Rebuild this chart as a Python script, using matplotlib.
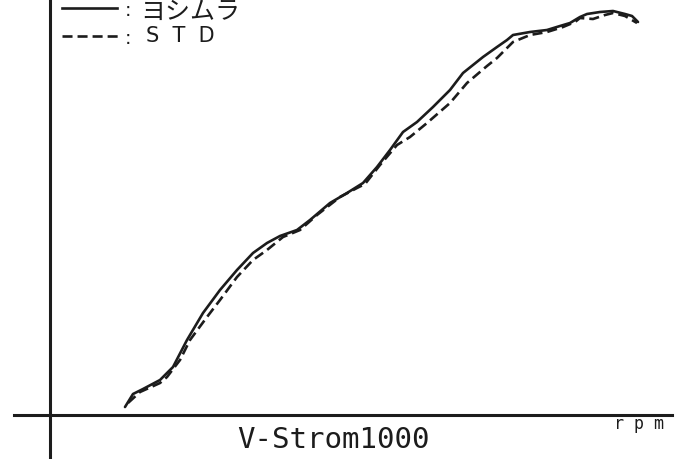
import matplotlib
matplotlib.use("Agg")
import matplotlib.pyplot as plt
import numpy as np

# Solid curve (ヨシムラ): rpm position vs output (arbitrary units)
yoshimura_x = [75, 83, 93, 110, 123, 137, 153, 170, 187, 203, 217, 230, 247, 260, 280,
               297, 313, 327, 340, 353, 367, 383, 400, 413, 433, 447, 457, 463, 480,
               497, 510, 520, 530, 537, 550, 563, 575, 582, 588]
yoshimura_y = [8, 21, 26, 35, 48, 75, 102, 125, 145, 162, 172, 179, 185, 195, 212,
               222, 232, 248, 265, 283, 293, 308, 325, 342, 358, 368, 375, 380, 383,
               385, 389, 392, 398, 401, 403, 404, 401, 399, 393]

# Dashed curve (STD)
std_x = [78, 90, 110, 117, 130, 140, 157, 170, 187, 203, 217, 233, 250, 267, 290,
         307, 315, 330, 347, 360, 377, 400, 417, 437, 447, 463, 480, 497, 513, 525,
         530, 543, 555, 563, 575, 587]
std_y = [12, 23, 32, 38, 55, 75, 98, 115, 138, 155, 165, 178, 185, 200, 218,
         227, 231, 250, 270, 278, 292, 312, 332, 349, 357, 373, 380, 383, 388, 393,
         397, 396, 400, 402, 399, 392]

title_text = "V-Strom1000"
unit_text = "r p m"
legend_labels = ["ヨシムラ", "S  T  D"]

W, H = 679, 459
fig = plt.figure(figsize=(W / 100, H / 100), dpi=100)
ax = fig.add_axes([0, 0, 1, 1])
ax.set_xlim(-50, W - 50)
ax.set_ylim(-44, H - 44)
ax.axis("off")

ink = "#1c1c1c"
dash = (0, (3.8, 1.9))

# axes lines
ax.axvline(0, color=ink, lw=2.2)
ax.axhline(0, xmin=14 / W, xmax=672 / W, color=ink, lw=2.2)

ax.plot(yoshimura_x, yoshimura_y, color=ink, lw=1.9, solid_capstyle="round",
        solid_joinstyle="round")
ax.plot(std_x, std_y, color=ink, lw=1.9, linestyle=dash, dash_joinstyle="round")

# legend drawn manually
tr = ax.transAxes
ax.plot([62 / W, 117 / W], [1 - 8 / H, 1 - 8 / H], color=ink, lw=1.9, transform=tr)
ax.plot([62 / W, 118 / W], [1 - 36 / H, 1 - 36 / H], color=ink, lw=1.9,
        linestyle=dash, transform=tr)
for yy in (11, 38):
    ax.text(128 / W, 1 - yy / H, ":", transform=tr, ha="center", va="center",
            fontsize=14, color=ink, family="DejaVu Sans")
ax.text(140 / W, 1 - 12 / H, legend_labels[0], transform=tr, ha="left", va="center",
        fontsize=18, color=ink, family=["Noto Sans CJK JP", "DejaVu Sans"])
ax.text(146 / W, 1 - 36 / H, legend_labels[1], transform=tr, ha="left", va="center",
        fontsize=15, color=ink, family="DejaVu Sans")

ax.text(333 / W, 1 - 440 / H, title_text, transform=tr, ha="center", va="center",
        fontsize=21, color=ink, family="DejaVu Sans Mono")
ax.text(639 / W, 1 - 424 / H, unit_text, transform=tr, ha="center", va="center",
        fontsize=12, color=ink, family="DejaVu Sans Mono")

fig.savefig("out.png", dpi=100, facecolor="white")
